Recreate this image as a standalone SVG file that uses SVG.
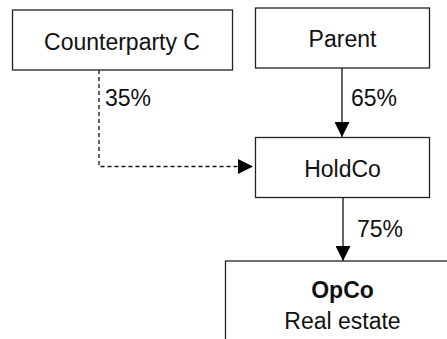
<svg xmlns="http://www.w3.org/2000/svg" width="447" height="339" viewBox="0 0 447 339">
<style>
.box{fill:#fff;stroke:#222;stroke-width:1.3}
.t{font-family:"Liberation Sans",Arial,sans-serif;font-size:23px;fill:#111;text-anchor:middle}
.lbl{font-family:"Liberation Sans",Arial,sans-serif;font-size:23px;fill:#111}
.ln{fill:none;stroke:#111;stroke-width:1.3}
.dash{stroke-dasharray:4 3}
</style>
<defs>
<marker id="ah" viewBox="0 0 10 10" refX="10" refY="5" markerUnits="userSpaceOnUse" markerWidth="15" markerHeight="15" orient="auto">
<path d="M0,0 L10,5 L0,10 Z" fill="#000"/>
</marker>
</defs>
<rect x="0" y="0" width="447" height="339" fill="#fff"/>
<g id="connectors">
<path class="ln dash" d="M99,70 V166.5 H253" marker-end="url(#ah)"/>
<path class="ln" d="M342,68 V137" marker-end="url(#ah)"/>
<path class="ln" d="M343,197 V261" marker-end="url(#ah)"/>
<text class="lbl" x="105" y="106">35%</text>
<text class="lbl" x="351" y="106">65%</text>
<text class="lbl" x="357" y="237">75%</text>
</g>
<g id="counterparty-c">
<rect class="box" x="12.5" y="10" width="220" height="60"/>
<text class="t" x="122" y="49.5">Counterparty C</text>
</g>
<g id="parent">
<rect class="box" x="255.5" y="8" width="174" height="60"/>
<text class="t" x="342.5" y="47">Parent</text>
</g>
<g id="holdco">
<rect class="box" x="255.5" y="137.5" width="174" height="60"/>
<text class="t" x="342.5" y="177">HoldCo</text>
</g>
<g id="opco">
<rect class="box" x="225.5" y="261" width="260" height="120"/>
<text class="t" x="342.5" y="297.5" font-weight="bold">OpCo</text>
<text class="t" x="342.5" y="328.5">Real estate</text>
</g>
</svg>
